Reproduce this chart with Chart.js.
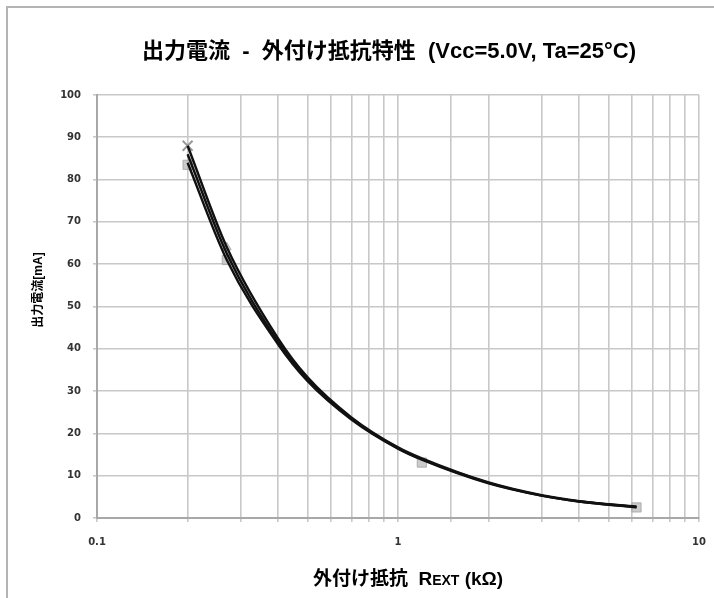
<!DOCTYPE html>
<html>
<head>
<meta charset="utf-8">
<script src="https://cdn.jsdelivr.net/npm/chart.js@4/dist/chart.umd.min.js"></script>
<style>
  html, body { margin: 0; padding: 0; background: #fff; overflow: hidden; }
  #frame { position: absolute; left: 6px; top: 6px; width: 730px; height: 620px; border: 2px solid #b4b4b4; }
  #wrap { position: absolute; left: 0; top: 0; width: 714px; height: 598px; }
</style>
</head>
<body>
<div id="frame"></div>
<div id="wrap"><canvas id="chart"></canvas></div>
<script>
// resistance points (kΩ)
var rext = [0.2, 0.27, 0.4, 0.5, 0.7, 1, 1.2, 2, 3, 4, 6.2];
var curveA = [88, 64, 42.4, 33.3, 23.8, 16.7, 14.1, 8.4, 5.4, 4.0, 2.7];
var curveB = [86, 62.5, 41.6, 32.8, 23.5, 16.5, 13.9, 8.3, 5.3, 3.9, 2.6];
var curveC = [84, 61, 41, 32.4, 23.3, 16.4, 13.8, 8.2, 5.3, 3.9, 2.5];

// measured markers
var sqR = [0.2, 0.27, 1.2, 6.2];
var sqI = [83.5, 61, 13.1, 2.5];
var crossR = [0.2];
var crossI = [88];
var triR = [0.27];
var triI = [64];

var xLabels = [0.1, 1, 10];
var yTicks = [0, 10, 20, 30, 40, 50, 60, 70, 80, 90, 100];

var titleText = '出力電流  -  外付け抵抗特性  (Vcc=5.0V, Ta=25°C)';
var yTitle = '出力電流[mA]';

function pts(xs, ys) {
  return xs.map(function(x, i){ return {x: x, y: ys[i]}; });
}

function lineSet(ys) {
  return {
    data: pts(rext, ys), showLine: true, borderColor: '#111', borderWidth: 2.4,
    pointRadius: 0, cubicInterpolationMode: 'monotone', fill: false, order: 1
  };
}

var textPlugin = {
  id: 'texts',
  afterDraw: function(chart) {
    var c = chart.ctx;
    c.save();
    c.fillStyle = '#000';
    c.textBaseline = 'middle';
    c.textAlign = 'center';
    c.font = 'bold 22px "Liberation Sans", "Noto Sans CJK JP", sans-serif';
    c.fillText(titleText, 389, 52);

    // x axis title with small caps subscript
    var parts = [
      ['外付け抵抗  R', 'bold 19px "Liberation Sans", "Noto Sans CJK JP", sans-serif'],
      ['EXT', 'bold 14px "Liberation Sans", "Noto Sans CJK JP", sans-serif'],
      [' (kΩ)', 'bold 19px "Liberation Sans", "Noto Sans CJK JP", sans-serif']
    ];
    var total = 0;
    parts.forEach(function(p){ c.font = p[1]; total += c.measureText(p[0]).width; });
    var x = 408 - total / 2;
    c.textAlign = 'left';
    c.textBaseline = 'alphabetic';
    parts.forEach(function(p){ c.font = p[1]; c.fillText(p[0], x, 585); x += c.measureText(p[0]).width; });

    c.translate(39, 290);
    c.rotate(-Math.PI / 2);
    c.textAlign = 'center';
    c.textBaseline = 'middle';
    c.font = 'bold 12px "Liberation Sans", "Noto Sans CJK JP", sans-serif';
    c.fillText(yTitle, 0, 0);
    c.restore();
  }
};

var ctx = document.getElementById('chart').getContext('2d');
new Chart(ctx, {
  type: 'scatter',
  data: {
    datasets: [
      lineSet(curveA), lineSet(curveB), lineSet(curveC),
      { data: pts(sqR, sqI), pointStyle: 'rect', pointRadius: 6.5, backgroundColor: 'rgba(190,190,190,0.8)',
        borderColor: 'rgba(160,160,160,0.8)', borderWidth: 1, order: 2 },
      { data: pts(crossR, crossI), pointStyle: 'crossRot', pointRadius: 7, borderColor: '#999', borderWidth: 2, order: 2 },
      { data: pts(triR, triI), pointStyle: 'triangle', pointRadius: 5, backgroundColor: 'rgba(180,180,180,0.7)',
        borderColor: '#aaa', borderWidth: 1, order: 2 }
    ]
  },
  options: {
    responsive: true,
    maintainAspectRatio: false,
    animation: false,
    layout: { padding: { top: 95, right: 0, left: 0, bottom: 0 } },
    plugins: { legend: { display: false }, tooltip: { enabled: false }, title: { display: false } },
    scales: {
      x: {
        type: 'logarithmic', min: 0.1, max: 10,
        afterFit: function(s){ s.height = 80; s.paddingRight = 15; },
        grid: { color: '#c8c8c8', lineWidth: 1.6, tickLength: 4 },
        border: { color: '#a8a8a8', width: 2 },
        ticks: {
          autoSkip: false, maxRotation: 0, padding: 14, color: '#333',
          font: { family: 'DejaVu Sans', size: 10, weight: 'bold' },
          callback: function(v){ return xLabels.indexOf(Number(v.toPrecision(3))) >= 0 ? String(Number(v.toPrecision(3))) : ''; }
        }
      },
      y: {
        min: 0, max: 100,
        afterFit: function(s){ s.width = 97; },
        afterBuildTicks: function(s){ s.ticks = yTicks.map(function(v){ return {value: v}; }); },
        grid: { color: '#c8c8c8', lineWidth: 1.6, tickLength: 4 },
        border: { color: '#a8a8a8', width: 2 },
        ticks: {
          padding: 12, color: '#333',
          font: { family: 'DejaVu Sans', size: 10, weight: 'bold' }
        }
      }
    }
  },
  plugins: [textPlugin]
});
</script>
</body>
</html>
